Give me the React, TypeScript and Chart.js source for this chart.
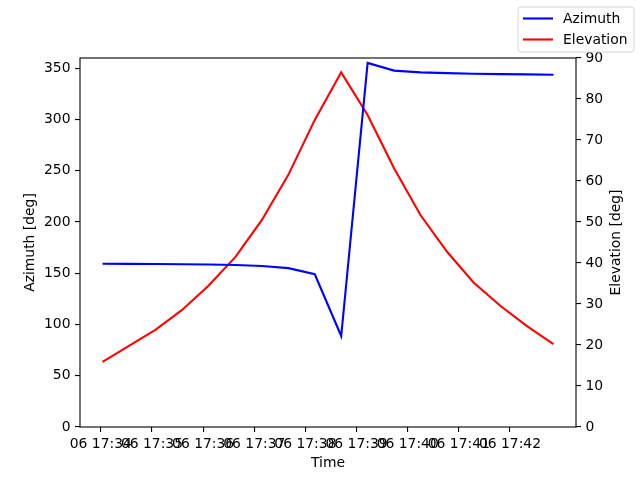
import React, { useEffect, useRef } from 'react';
import Chart from 'chart.js/auto';

// pass times (HH:MM:SS), day 06
const dayLabel = '06';
const times = [
    '17:34:02', '17:34:33', '17:35:04', '17:35:35', '17:36:06', '17:36:38',
    '17:37:09', '17:37:40', '17:38:11', '17:38:42', '17:39:13', '17:39:44',
    '17:40:15', '17:40:46', '17:41:17', '17:41:49', '17:42:20', '17:42:51',
];
const azimuth = [
    159.2, 159.1, 159.0, 158.8, 158.6, 158.1, 157.0, 155.0, 149.0,
    88.8, 355.2, 347.7, 346.0, 345.2, 344.7, 344.3, 344.0, 343.6,
];
const elevation = [
    15.9, 19.8, 23.7, 28.5, 34.4, 41.5, 50.5, 61.5, 74.9,
    86.5, 76.1, 63.1, 51.7, 42.8, 35.3, 29.5, 24.6, 20.2,
];
const timeTicks = ['17:34', '17:35', '17:36', '17:37', '17:38', '17:39', '17:40', '17:41', '17:42'];
const azimuthTicks = [0, 50, 100, 150, 200, 250, 300, 350];
const elevationTicks = [0, 10, 20, 30, 40, 50, 60, 70, 80, 90];

const FONT = 'DejaVu Sans';
const FS = 13.9;
const base = 17 * 3600 + 34 * 60;
const toSec = (t: string) => {
    const [h, m, s] = t.split(':').map(Number);
    return h * 3600 + m * 60 + (s || 0) - base;
};
const fmt = (v: number) => {
    const tot = base + v;
    const h = Math.floor(tot / 3600);
    const m = Math.floor((tot % 3600) / 60);
    return `${dayLabel} ${h}:${String(m).padStart(2, '0')}`;
};

const framePlugin = {
    id: 'frameAndLegend',
    afterDraw(chart: any) {
        const { ctx, chartArea: a } = chart;
        ctx.save();
        ctx.strokeStyle = '#000';
        ctx.lineWidth = 1.1;
        ctx.strokeRect(a.left, a.top, a.right - a.left, a.bottom - a.top);

        // right axis title, reads bottom to top like matplotlib
        ctx.translate(616, (a.top + a.bottom) / 2);
        ctx.rotate(-Math.PI / 2);
        ctx.fillStyle = '#000';
        ctx.font = `${FS}px "${FONT}"`;
        ctx.textAlign = 'center';
        ctx.textBaseline = 'middle';
        ctx.fillText('Elevation [deg]', 0, 0);
        ctx.restore();

        // legend box top right of figure
        ctx.save();
        const x0 = 518, y0 = 7, w = 116, h = 45, r = 3;
        ctx.beginPath();
        ctx.roundRect(x0, y0, w, h, r);
        ctx.fillStyle = 'rgba(255,255,255,0.8)';
        ctx.fill();
        ctx.strokeStyle = '#d6d6d6';
        ctx.lineWidth = 1;
        ctx.stroke();
        ctx.font = `${FS}px "${FONT}"`;
        ctx.textBaseline = 'middle';
        chart.data.datasets.forEach((ds: any, i: number) => {
            const y = 18.5 + i * 21;
            ctx.strokeStyle = ds.borderColor;
            ctx.lineWidth = 2.1;
            ctx.beginPath();
            ctx.moveTo(523, y);
            ctx.lineTo(553, y);
            ctx.stroke();
            ctx.fillStyle = '#000';
            ctx.fillText(ds.label, 563, y + 0.5);
        });
        ctx.restore();
    },
};

export default function App() {
    const chartRef = useRef<HTMLCanvasElement | null>(null);
    const chartInstance = useRef<Chart | null>(null);

    useEffect(() => {
        if (!chartRef.current) return;
        const ctx = chartRef.current.getContext('2d');
        if (!ctx) return;
        const xs = times.map(toSec);
        const span = xs[xs.length - 1] - xs[0];
        const axisFont = { family: FONT, size: FS };

        chartInstance.current = new Chart(ctx, {
            type: 'line',
            data: {
                datasets: [
                    {
                        label: 'Azimuth',
                        data: xs.map((x, i) => ({ x, y: azimuth[i] })),
                        borderColor: '#0000ff',
                        backgroundColor: '#0000ff',
                        borderWidth: 2.1,
                        pointRadius: 0,
                        tension: 0,
                        yAxisID: 'y',
                    },
                    {
                        label: 'Elevation',
                        data: xs.map((x, i) => ({ x, y: elevation[i] })),
                        borderColor: '#ff0000',
                        backgroundColor: '#ff0000',
                        borderWidth: 2.1,
                        pointRadius: 0,
                        tension: 0,
                        yAxisID: 'y1',
                    },
                ],
            },
            options: {
                responsive: false,
                animation: false,
                layout: { padding: { top: 58, left: 0, right: 0, bottom: 0 } },
                plugins: {
                    legend: { display: false },
                    tooltip: { enabled: false },
                },
                scales: {
                    x: {
                        type: 'linear',
                        min: xs[0] - 0.05 * span,
                        max: xs[xs.length - 1] + 0.05 * span,
                        afterBuildTicks: (scale: any) => {
                            scale.ticks = timeTicks.map(t => ({ value: toSec(t) }));
                        },
                        afterFit: (scale: any) => { scale.height = 53; },
                        border: { display: false },
                        grid: { drawOnChartArea: false, drawTicks: true, tickLength: 5, color: '#000', lineWidth: 1.1 },
                        ticks: {
                            autoSkip: false,
                            maxRotation: 0,
                            padding: 4.5,
                            color: '#000',
                            font: axisFont,
                            callback: (v: any) => fmt(Number(v)),
                        },
                        title: { display: true, text: 'Time', color: '#000', font: axisFont, padding: { top: 0, bottom: 8.5 } },
                    },
                    y: {
                        position: 'left',
                        min: 0,
                        max: 360,
                        afterBuildTicks: (scale: any) => {
                            scale.ticks = azimuthTicks.map(value => ({ value }));
                        },
                        afterFit: (scale: any) => { scale.width = 80; },
                        border: { display: false },
                        grid: { drawOnChartArea: false, drawTicks: true, tickLength: 5, color: '#000', lineWidth: 1.1 },
                        ticks: { padding: 4.5, color: '#000', font: axisFont },
                        title: { display: true, text: 'Azimuth [deg]', color: '#000', font: axisFont, padding: { top: 22, bottom: 0 } },
                    },
                    y1: {
                        position: 'right',
                        min: 0,
                        max: 90,
                        afterBuildTicks: (scale: any) => {
                            scale.ticks = elevationTicks.map(value => ({ value }));
                        },
                        afterFit: (scale: any) => { scale.width = 64; },
                        border: { display: false },
                        grid: { drawOnChartArea: false, drawTicks: true, tickLength: 5, color: '#000', lineWidth: 1.1 },
                        ticks: { padding: 4.5, color: '#000', font: axisFont },
                    },
                },
            },
            plugins: [framePlugin],
        } as any);

        return () => {
            if (chartInstance.current) {
                chartInstance.current.destroy();
            }
        };
    }, []);

    return (
        <div style={{ position: 'fixed', top: 0, left: 0, width: 640, height: 480, background: '#fff' }}>
            <canvas ref={chartRef} width={640} height={480} />
        </div>
    );
}
